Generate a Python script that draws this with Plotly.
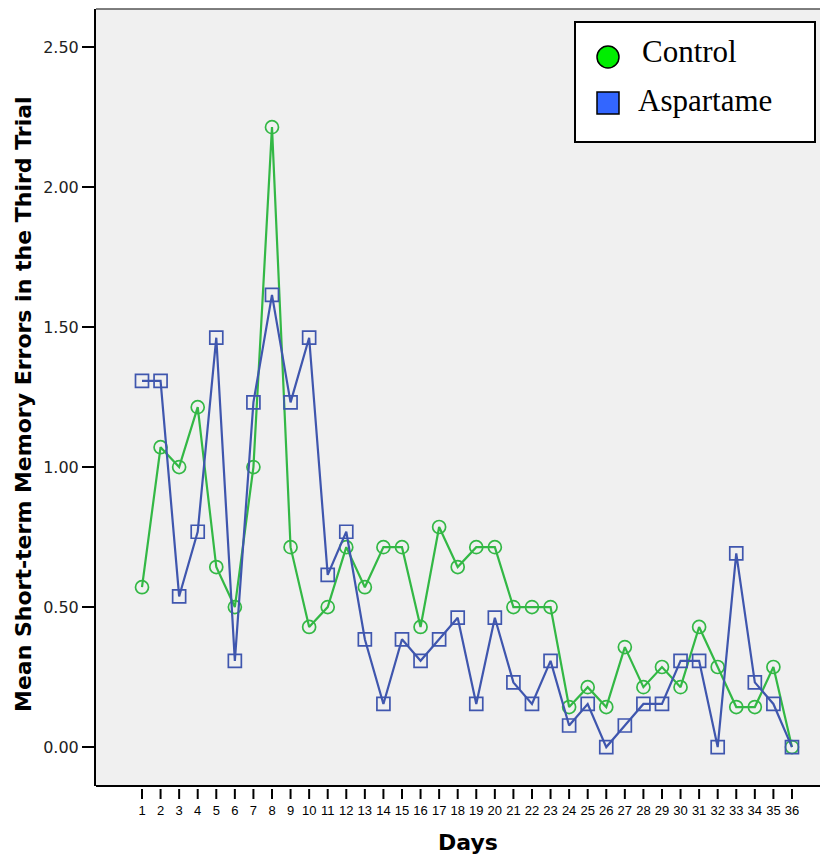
import plotly.graph_objects as go

days = list(range(1, 37))
control = [0.571, 1.071, 1.0, 1.214, 0.643, 0.5, 1.0, 2.214, 0.714, 0.429,
           0.5, 0.714, 0.571, 0.714, 0.714, 0.429, 0.786, 0.643, 0.714, 0.714,
           0.5, 0.5, 0.5, 0.143, 0.214, 0.143, 0.357, 0.214, 0.286, 0.214,
           0.429, 0.286, 0.143, 0.143, 0.286, 0.0]
aspartame = [1.308, 1.308, 0.538, 0.769, 1.462, 0.308, 1.231, 1.615, 1.231, 1.462,
             0.615, 0.769, 0.385, 0.154, 0.385, 0.308, 0.385, 0.462, 0.154, 0.462,
             0.231, 0.154, 0.308, 0.077, 0.154, 0.0, 0.077, 0.154, 0.154, 0.308,
             0.308, 0.0, 0.692, 0.231, 0.154, 0.0]
y_ticks = [0.0, 0.5, 1.0, 1.5, 2.0, 2.5]
y_tick_labels = ["0.00", "0.50", "1.00", "1.50", "2.00", "2.50"]
series_names = ["Control", "Aspartame"]

# page has an 8px body margin; figure sized so that it fills the 828x857 view
OFF = 8
W, H = 828 - OFF, 857 - OFF
L, R, T, B = 96 - OFF, 0, 9 - OFF, 857 - 789
PW, PH = W - L - R, H - T - B


def px(x_page):
    return (x_page - OFF - L) / PW


def py(y_page):
    return (H - B - (y_page - OFF)) / PH


GREEN = "#33b845"
BLUE = "#3f56ae"

fig = go.Figure()
fig.add_trace(go.Scatter(
    x=days, y=control, mode="lines+markers", name=series_names[0],
    line=dict(color=GREEN, width=2.2),
    marker=dict(symbol="circle-open", size=13, color=GREEN, line=dict(width=1.7, color=GREEN)),
    showlegend=False))
fig.add_trace(go.Scatter(
    x=days, y=aspartame, mode="lines+markers", name=series_names[1],
    line=dict(color=BLUE, width=2.2),
    marker=dict(symbol="square-open", size=13, color=BLUE, line=dict(width=1.7, color=BLUE)),
    showlegend=False))

ydom0 = 3 / PH
fig.update_layout(
    width=W, height=H,
    margin=dict(l=L, r=R, t=T, b=B, pad=0),
    paper_bgcolor="white", plot_bgcolor="#f0f0f0",
    font=dict(family="DejaVu Sans, Liberation Sans, Arial, sans-serif", color="#000"),
    xaxis=dict(range=[-1.477, 37.94], tickmode="array", tickvals=days,
               ticktext=[str(d) for d in days], ticks="", ticklabelstandoff=12,
               showline=False, showgrid=False,
               zeroline=False, anchor="free", position=0,
               tickfont=dict(size=13, family="Liberation Sans Narrow, Liberation Sans, Arial")),
    yaxis=dict(range=[-0.139, 2.636], domain=[ydom0, 1], tickmode="array",
               tickvals=y_ticks, ticktext=y_tick_labels, ticks="outside",
               ticklen=12, tickwidth=2, tickcolor="black", showline=True,
               linecolor="black", linewidth=2, showgrid=False, zeroline=False,
               tickfont=dict(size=16, color="#222", family="DejaVu Sans, Arial")),
    showlegend=False,
)

shapes = [
    # white covers for the tick band outside days 1..36
    dict(type="rect", xref="paper", yref="paper", x0=px(97), x1=px(133),
         y0=py(803), y1=py(788), fillcolor="white", line=dict(width=0), layer="above"),
    dict(type="rect", xref="paper", yref="paper", x0=px(801), x1=1,
         y0=py(803), y1=py(788), fillcolor="white", line=dict(width=0), layer="above"),
    dict(type="line", xref="paper", yref="paper", x0=0, x1=1, y0=ydom0, y1=ydom0,
         line=dict(color="black", width=2)),
    dict(type="line", xref="paper", yref="paper", x0=0, x1=1, y0=1, y1=1,
         line=dict(color="#555", width=1.5)),
    dict(type="rect", xref="paper", yref="paper", x0=px(575), x1=px(815),
         y0=py(142), y1=py(22), fillcolor="white", line=dict(color="black", width=2)),
    dict(type="circle", xref="paper", yref="paper", x0=px(597), x1=px(619),
         y0=py(68), y1=py(46), fillcolor="#00ee00", line=dict(color="black", width=1.5)),
    dict(type="rect", xref="paper", yref="paper", x0=px(597), x1=px(619),
         y0=py(114), y1=py(92), fillcolor="#3366ff", line=dict(color="black", width=1.5)),
]
# x tick marks placed through the x data scale
for d in days:
    shapes.append(dict(type="line", xref="x", yref="paper", x0=d, x1=d,
                       y0=py(789), y1=py(799), line=dict(color="black", width=2),
                       layer="above"))
fig.update_layout(shapes=shapes)

serif = "Liberation Serif, Times New Roman, serif"
annotations = [
    dict(text=series_names[0], xref="paper", yref="paper", x=px(640), y=py(51),
         xanchor="left", yanchor="middle", showarrow=False,
         font=dict(family=serif, size=31, color="black")),
    dict(text=series_names[1], xref="paper", yref="paper", x=px(636), y=py(100),
         xanchor="left", yanchor="middle", showarrow=False,
         font=dict(family=serif, size=31, color="black")),
    dict(text="<b>Mean Short-term Memory Errors in the Third Trial</b>", xref="paper",
         yref="paper", x=px(23), y=py(404), textangle=-90, showarrow=False,
         xanchor="center", yanchor="middle",
         font=dict(size=22, color="black", family="DejaVu Sans, Arial")),
    dict(text="<b>Days</b>", xref="paper", yref="paper", x=px(468), y=py(842),
         showarrow=False, xanchor="center", yanchor="middle",
         font=dict(size=22, color="black", family="DejaVu Sans, Arial")),
]
fig.update_layout(annotations=annotations)

fig.write_html("out.html")
